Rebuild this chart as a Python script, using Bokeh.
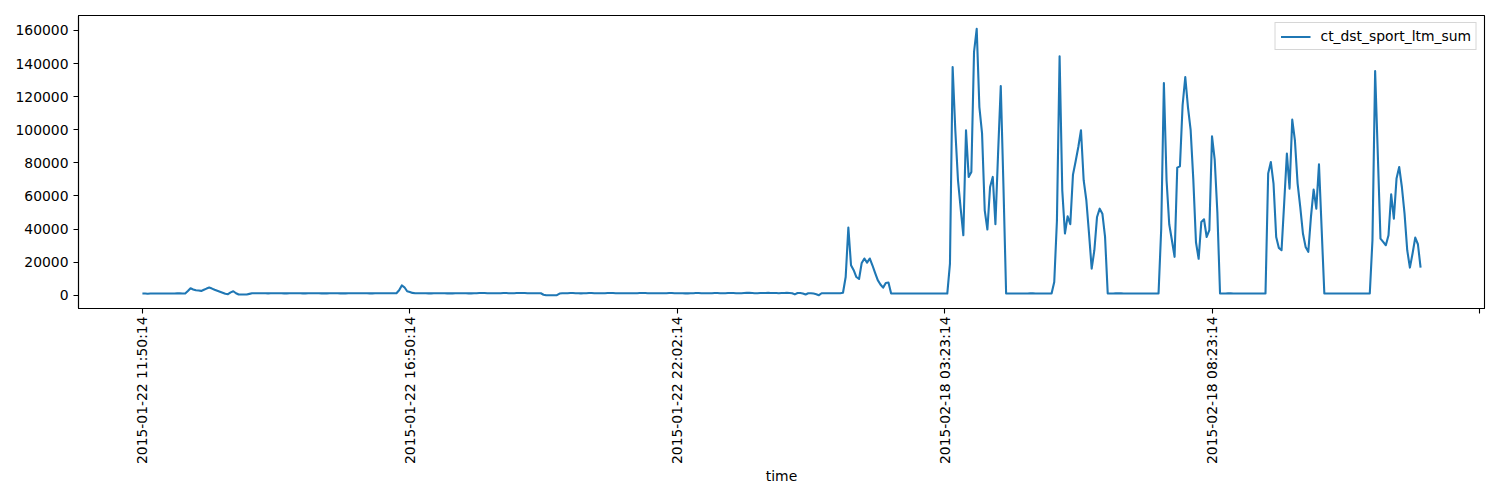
import math
from bokeh.plotting import figure
from bokeh.models import (FixedTicker, Range1d, Legend, LegendItem,
                          NumeralTickFormatter, ColumnDataSource)
from bokeh.embed import file_html
from bokeh.resources import INLINE

series_name = "ct_dst_sport_ltm_sum"
x_label = "time"

tick_positions = [0, 100, 200, 300, 400, 500]
tick_labels = ["2015-01-22 11:50:14", "2015-01-22 16:50:14", "2015-01-22 22:02:14",
               "2015-02-18 03:23:14", "2015-02-18 08:23:14", ""]

y_ticks = [0, 20000, 40000, 60000, 80000, 100000, 120000, 140000, 160000]

values = [
    1000, 1000, 900, 1000, 1000, 1000, 1000, 1000, 1000, 1000,
    1000, 1000, 1000, 1100, 1100, 1000, 1000, 2500, 4200, 3500,
    3000, 2800, 2600, 3300, 4000, 4600, 4000, 3300, 2700, 2100,
    1500, 900, 600, 1700, 2400, 1200, 400, 400, 400, 400,
    800, 1200, 1200, 1200, 1200, 1200, 1200, 1100, 1200, 1200,
    1200, 1200, 1200, 1100, 1100, 1200, 1200, 1200, 1200, 1200,
    1100, 1100, 1200, 1200, 1200, 1200, 1200, 1100, 1100, 1100,
    1200, 1200, 1200, 1200, 1100, 1100, 1100, 1200, 1200, 1200,
    1200, 1200, 1200, 1200, 1200, 1100, 1100, 1200, 1200, 1200,
    1200, 1200, 1200, 1200, 1200, 1200, 3000, 5900, 4800, 2400,
    2000, 1400, 1200, 1200, 1200, 1200, 1200, 1100, 1100, 1200,
    1200, 1200, 1200, 1200, 1100, 1100, 1100, 1200, 1200, 1200,
    1200, 1200, 1100, 1100, 1200, 1200, 1300, 1300, 1300, 1200,
    1200, 1200, 1200, 1200, 1200, 1300, 1300, 1200, 1200, 1200,
    1300, 1300, 1300, 1300, 1200, 1200, 1200, 1200, 1200, 1200,
    300, 0, 0, 0, 0, 0, 1000, 1200, 1200, 1200,
    1300, 1300, 1200, 1200, 1100, 1200, 1200, 1300, 1300, 1200,
    1200, 1200, 1200, 1200, 1300, 1300, 1300, 1200, 1200, 1200,
    1200, 1200, 1200, 1200, 1200, 1200, 1300, 1300, 1300, 1200,
    1200, 1200, 1200, 1200, 1200, 1200, 1200, 1300, 1300, 1200,
    1200, 1200, 1200, 1100, 1100, 1200, 1200, 1300, 1300, 1200,
    1200, 1200, 1200, 1200, 1300, 1300, 1200, 1200, 1200, 1300,
    1300, 1300, 1200, 1200, 1200, 1300, 1400, 1400, 1300, 1200,
    1200, 1300, 1300, 1300, 1400, 1300, 1300, 1300, 1200, 1300,
    1300, 1400, 1300, 1200, 500, 1300, 1300, 1000, 400, 1200,
    1200, 1000, 600, 0, 1200, 1200, 1200, 1200, 1200, 1200,
    1200, 1200, 1500, 11000, 40900, 18100, 15100, 11000, 9800, 19500,
    22200, 19700, 22200, 18100, 13500, 9100, 6500, 4600, 7400, 7700,
    1000, 1000, 1000, 1000, 1000, 1000, 1000, 1000, 1000, 1000,
    1000, 1000, 1000, 1000, 1000, 1000, 1000, 1000, 1000, 1000,
    1000, 1000, 19100, 137900, 99700, 69500, 52500, 36200, 99700, 71500,
    74500, 147000, 161000, 113700, 97800, 51300, 39700, 65400, 71500, 42900,
    86000, 126400, 66000, 1000, 1000, 1000, 1000, 1000, 1000, 1000,
    1000, 1000, 1100, 1100, 1000, 1000, 1000, 1000, 1000, 1000,
    1000, 8000, 45000, 144400, 63400, 37300, 47700, 42900, 72800, 81000,
    89600, 99700, 69500, 57400, 37300, 16100, 27200, 47300, 52300, 49300,
    35200, 1000, 1000, 1000, 1100, 1100, 1100, 1000, 1000, 1000,
    1000, 1000, 1000, 1000, 1000, 1000, 1000, 1000, 1000, 1000,
    1000, 40000, 128200, 69500, 42900, 33200, 23200, 77100, 77900, 114800,
    131900, 113700, 100000, 70000, 32000, 22000, 44300, 45900, 35200, 39300,
    96000, 82000, 50000, 1000, 1000, 1000, 1100, 1100, 1000, 1000,
    1000, 1000, 1000, 1000, 1000, 1000, 1000, 1000, 1000, 1000,
    1000, 73500, 80500, 67500, 35200, 28600, 27200, 56000, 85600, 64400,
    106100, 93600, 67600, 53300, 37300, 29200, 26200, 47300, 63800, 52300,
    79100, 40000, 1000, 1000, 1000, 1000, 1000, 1000, 1000, 1000,
    1000, 1000, 1000, 1000, 1000, 1000, 1000, 1000, 1000, 1000,
    33200, 135500, 85000, 34200, 32200, 30200, 36200, 61000, 46300, 70500,
    77500, 65400, 49300, 27200, 16700, 25200, 34800, 30800, 16700,
]

FONT = "DejaVu Sans"
FS = "13.9px"

source = ColumnDataSource(dict(x=list(range(len(values))), y=values))

p = figure(frame_width=1406, frame_height=293,
           min_border_left=78, min_border_right=8, min_border_top=15, min_border_bottom=182,
           output_backend="svg", toolbar_location=None,
           x_range=Range1d(-23.9, 501.9), y_range=Range1d(-8030, 169060),
           background_fill_color="white", border_fill_color="white")

p.xgrid.visible = False
p.ygrid.visible = False
p.outline_line_color = "black"
p.outline_line_width = 1.1
p.outline_line_alpha = 1.0

r = p.line("x", "y", source=source, line_color="#1f77b4", line_width=2.1, line_join="round")

# x axis
xa = p.xaxis[0]
xa.ticker = FixedTicker(ticks=tick_positions)
xa.major_label_overrides = {t: l for t, l in zip(tick_positions, tick_labels)}
xa.major_label_orientation = math.pi / 2
xa.axis_label = x_label
# y axis
ya = p.yaxis[0]
ya.ticker = FixedTicker(ticks=y_ticks)
ya.formatter = NumeralTickFormatter(format="0")

for ax in (xa, ya):
    ax.minor_tick_line_color = None
    ax.major_tick_in = 0
    ax.major_tick_out = 5
    ax.major_tick_line_color = "black"
    ax.major_tick_line_width = 1.1
    ax.axis_line_color = "black"
    ax.axis_line_width = 1.1
    ax.major_label_text_font = FONT
    ax.major_label_text_font_size = FS
    ax.major_label_text_color = "black"
    ax.major_label_standoff = 5
    ax.axis_label_text_font = FONT
    ax.axis_label_text_font_size = FS
    ax.axis_label_text_font_style = "normal"
    ax.axis_label_text_color = "black"
    ax.axis_label_standoff = 5

xa.major_label_standoff = 3
xa.axis_label_standoff = 1

legend = Legend(items=[LegendItem(label=series_name, renderers=[r])],
                location="top_right", margin=7, padding=5, spacing=0,
                glyph_width=30, glyph_height=15, label_height=15, label_standoff=10,
                label_text_font=FONT, label_text_font_size=FS, label_text_color="black",
                border_line_color="#cccccc", border_line_alpha=0.8, border_line_width=1,
                background_fill_color="white", background_fill_alpha=0.8)
p.add_layout(legend)

open("out.html", "w").write(file_html(p, INLINE))
